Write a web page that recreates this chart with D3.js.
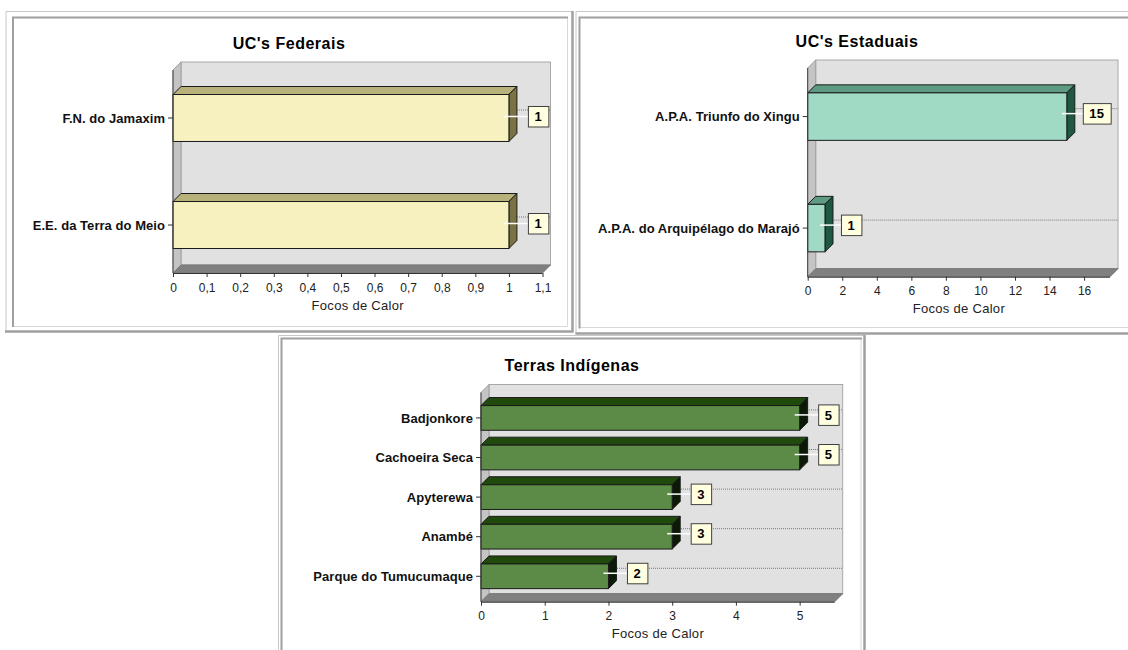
<!DOCTYPE html>
<html><head><meta charset="utf-8">
<script src="https://cdn.jsdelivr.net/npm/d3@7"></script>
<style>body{margin:0;background:#fff;} svg{display:block;font-family:"Liberation Sans",Arial,sans-serif;}</style>
</head><body><svg id="c" width="1128" height="650"></svg>
<script>
// ---- data ----
const fedCategories = ["F.N. do Jamaxim", "E.E. da Terra do Meio"];
const fedValues = [1, 1];
const fedTicks = [0, 0.1, 0.2, 0.3, 0.4, 0.5, 0.6, 0.7, 0.8, 0.9, 1, 1.1];

const estCategories = ["A.P.A. Triunfo do Xingu", "A.P.A. do Arquipélago do Marajó"];
const estValues = [15, 1];
const estTicks = [0, 2, 4, 6, 8, 10, 12, 14, 16];

const tiCategories = ["Badjonkore", "Cachoeira Seca", "Apyterewa", "Anambé", "Parque do Tumucumaque"];
const tiValues = [5, 5, 3, 3, 2];
const tiTicks = [0, 1, 2, 3, 4, 5];

const titles = ["UC's Federais", "UC's Estaduais", "Terras Indígenas"];
const axisTitle = "Focos de Calor";

// ---- layout ----
const svg = d3.select("#c");
const D = 8;
const fmt = v => String(v).replace(".", ",");

const panels = [
  { title: titles[0], cats: fedCategories, vals: fedValues, ticks: fedTicks, max: 1.1,
    x0: 173, x1: 542.5, top: 70, axisY: 273, pin: 0.561, pout: 0.229,
    titleX: 289, titleY: 49, gap: 19, ldy: -1.5,
    col: { front: "#f7f1c0", top: "#b8b27a", side: "#7b7244" } },
  { title: titles[1], cats: estCategories, vals: estValues, ticks: estTicks, max: 17.5,
    x0: 807.7, x1: 1110, top: 68, axisY: 276.7, pin: 0.574, pout: 0.223,
    titleX: 857, titleY: 46.7, gap: 16, ldy: -3,
    col: { front: "#a0d9c4", top: "#5f9b83", side: "#1f5842" } },
  { title: titles[2], cats: tiCategories, vals: tiValues, ticks: tiTicks, max: 5.55,
    x0: 481, x1: 834.7, top: 392.5, axisY: 601.7, pin: 0.376, pout: 0.33,
    titleX: 572, titleY: 370.5, gap: 18.5, ldy: -3,
    col: { front: "#5b8b46", top: "#1f4a0c", side: "#0b1a05" } }
];

// ---- frames ----
function frame(o) {
  const g = svg.append("g").attr("fill", "none");
  g.append("path").attr("d", o.outerLight).attr("stroke", "#c8c8c8").attr("stroke-width", 1);
  g.append("path").attr("d", o.innerLight).attr("stroke", "#d8d8d8").attr("stroke-width", 1);
  g.append("path").attr("d", o.innerDark).attr("stroke", "#a0a0a0").attr("stroke-width", 2);
  g.append("path").attr("d", o.outerDark).attr("stroke", "#a0a0a0").attr("stroke-width", 2.5);
}
frame({ outerLight: "M6,333V11.5H573", innerDark: "M13,327V17.5H568",
        innerLight: "M13.5,326.5H567.5V17.5", outerDark: "M572.5,11V331.5H5" });
frame({ outerLight: "M576,334V11.5H1128", innerDark: "M579.5,328.5V17.5H1128",
        innerLight: "M580,327.5H1128", outerDark: "M575.5,333.5H1128" });
frame({ outerLight: "M278.5,650V335.5H865", innerDark: "M281.5,650V338.5H862",
        innerLight: "M861,339V650", outerDark: "M864.5,335V650" });

// ---- panels ----
function drawPanel(p) {
  const g = svg.append("g");
  const x = d3.scaleLinear().domain([0, p.max]).range([p.x0, p.x1]);
  const y = d3.scaleBand().domain(p.cats).range([p.top, p.axisY])
    .paddingInner(p.pin).paddingOuter(p.pout);
  const bw = y.bandwidth();
  const data = p.cats.map((c, i) => ({ c, v: p.vals[i] }));

  // title
  g.append("text").attr("x", p.titleX).attr("y", p.titleY).attr("text-anchor", "middle")
    .attr("font-size", 16).attr("font-weight", "bold").attr("letter-spacing", 0.5)
    .attr("fill", "#000").text(p.title);

  // back wall
  g.append("rect").attr("x", p.x0 + D).attr("y", p.top - D)
    .attr("width", p.x1 - p.x0).attr("height", p.axisY - p.top)
    .attr("fill", "#e1e1e1").attr("stroke", "#a8a8a8");
  // left wall
  g.append("path").attr("d", `M${p.x0},${p.top}L${p.x0 + D},${p.top - D}V${p.axisY - D}L${p.x0},${p.axisY}Z`)
    .attr("fill", "#c4c4c4").attr("stroke", "#a0a0a0");
  // floor
  g.append("path").attr("d", `M${p.x0},${p.axisY}L${p.x0 + D},${p.axisY - D}H${p.x1 + D}L${p.x1},${p.axisY}Z`)
    .attr("fill", "#808080").attr("stroke", "#787878");

  // dotted grid lines on the back wall
  g.selectAll(".grid").data(data).join("line")
    .attr("x1", p.x0 + D).attr("x2", p.x1 + D)
    .attr("y1", d => y(d.c) + bw / 2 - D).attr("y2", d => y(d.c) + bw / 2 - D)
    .attr("stroke", "#7a7a7a").attr("stroke-dasharray", "1,1");

  // bars
  const bars = g.selectAll(".bar").data(data).join("g");
  bars.append("path").attr("d", d => {
      const t = y(d.c), xv = x(d.v);
      return `M${p.x0},${t}L${p.x0 + D},${t - D}H${xv + D}L${xv},${t}Z`;
    }).attr("fill", p.col.top).attr("stroke", "#1a1a1a").attr("stroke-linejoin", "round");
  bars.append("path").attr("d", d => {
      const t = y(d.c), xv = x(d.v);
      return `M${xv},${t}L${xv + D},${t - D}V${t + bw - D}L${xv},${t + bw}Z`;
    }).attr("fill", p.col.side).attr("stroke", "#1a1a1a").attr("stroke-linejoin", "round");
  bars.append("rect").attr("x", p.x0).attr("y", d => y(d.c))
    .attr("width", d => x(d.v) - p.x0).attr("height", bw)
    .attr("fill", p.col.front).attr("stroke", "#1a1a1a");

  // axes
  g.append("line").attr("x1", p.x0).attr("x2", p.x0).attr("y1", p.top).attr("y2", p.axisY)
    .attr("stroke", "#444");
  const xa = g.append("g").attr("transform", `translate(0,${p.axisY})`)
    .call(d3.axisBottom(x).tickValues(p.ticks).tickFormat(fmt).tickSize(4).tickPadding(6).tickSizeOuter(0));
  xa.select(".domain").attr("stroke", "#333").attr("d", `M${p.x0},0.5H${p.x1}`);
  xa.selectAll(".tick line").attr("stroke", "#333");
  xa.selectAll("text").attr("font-size", 12).attr("font-family", "Liberation Sans, Arial, sans-serif")
    .attr("fill", "#222");

  const ya = g.append("g").attr("transform", `translate(${p.x0},0)`)
    .call(d3.axisLeft(y).tickSize(5).tickPadding(3).tickSizeOuter(0));
  ya.select(".domain").remove();
  ya.selectAll(".tick line").attr("stroke", "#333");
  ya.selectAll("text").attr("font-size", 13).attr("font-weight", "bold").attr("letter-spacing", 0.05)
    .attr("font-family", "Liberation Sans, Arial, sans-serif").attr("fill", "#111").attr("dy", "0.36em");

  g.append("text").attr("x", (p.x0 + p.x1) / 2).attr("y", p.axisY + 36.5).attr("text-anchor", "middle")
    .attr("font-size", 13).attr("letter-spacing", 0.3).attr("fill", "#222").text(axisTitle);

  // value labels
  data.forEach(d => {
    const cy = y(d.c) + bw / 2 + p.ldy, xv = x(d.v);
    const bx = xv + p.gap;
    g.append("line").attr("x1", xv - 5).attr("x2", bx).attr("y1", cy).attr("y2", cy)
      .attr("stroke", "#fff").attr("stroke-width", 1.5);
    const lab = g.append("g");
    const rect = lab.append("rect");
    const t = lab.append("text").attr("font-size", 13).attr("font-weight", "bold")
      .attr("letter-spacing", 0.2).attr("fill", "#000").text(d.v);
    const w = t.node().getComputedTextLength() + 13;
    t.attr("x", bx + w / 2).attr("y", cy + 4.6).attr("text-anchor", "middle");
    rect.attr("x", bx + 0.5).attr("y", cy - 10).attr("width", w).attr("height", 20.5)
      .attr("fill", "#ffffe0").attr("stroke", "#404040");
  });
}
panels.forEach(drawPanel);
</script></body></html>
